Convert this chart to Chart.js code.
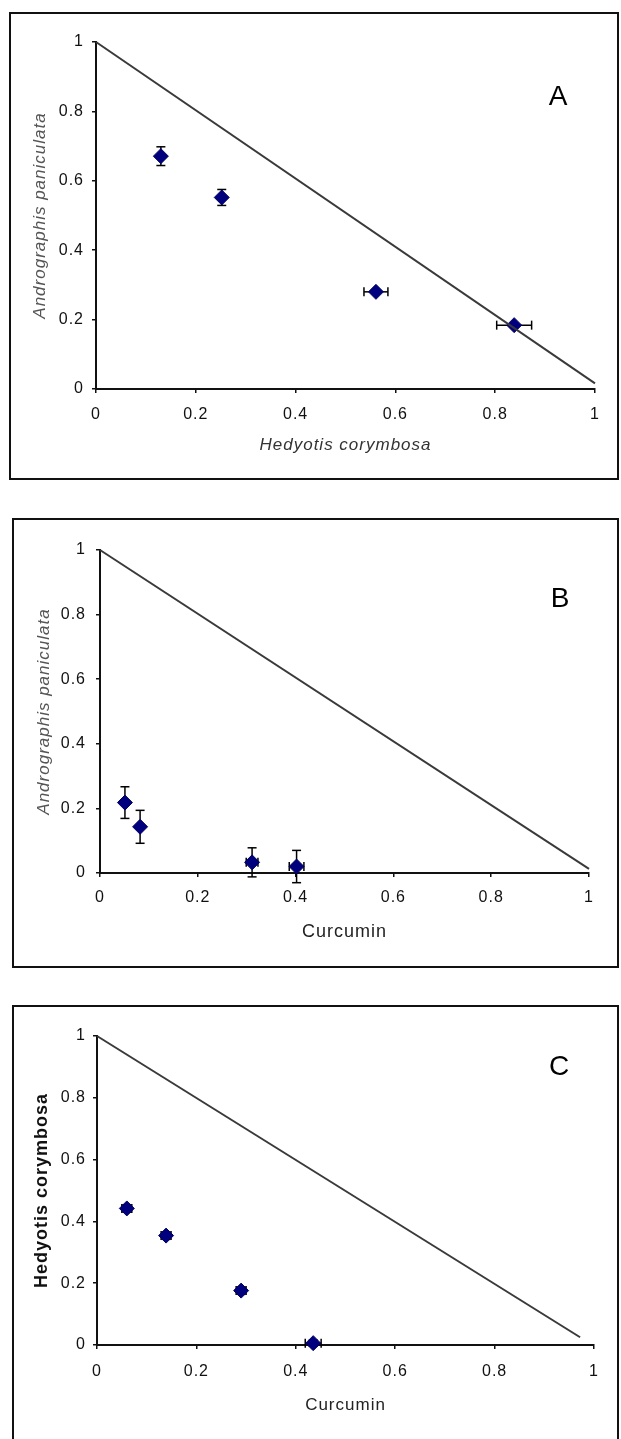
<!DOCTYPE html>
<html>
<head>
<meta charset="utf-8">
<title>Isobolograms A-C</title>
<script src="https://cdn.jsdelivr.net/npm/chart.js"></script>
<style>
  body { margin: 0; background: #fff; width: 621px; height: 1439px; position: relative; overflow: hidden; }
  .box { position: absolute; border: 2px solid #111; box-sizing: border-box; }
  canvas { position: absolute; left: 0; }
  .tag { position: absolute; width: 40px; text-align: center; line-height: 30px;
         font: 28px "Liberation Sans", Arial, sans-serif; color: #000; }
</style>
</head>
<body>
<div class="box" style="left:9px;top:12px;width:610px;height:468px"></div>
<div class="box" style="left:12px;top:518px;width:607px;height:450px"></div>
<div class="box" style="left:12px;top:1005px;width:607px;height:445px"></div>

<canvas id="chartA" width="621" height="480" style="top:0"></canvas>
<canvas id="chartB" width="621" height="468" style="top:500px"></canvas>
<canvas id="chartC" width="621" height="449" style="top:990px"></canvas>

<div class="tag" style="left:538px;top:80px">A</div>
<div class="tag" style="left:540px;top:582px">B</div>
<div class="tag" style="left:539px;top:1050px">C</div>

<script>
const tickValues = [0, 0.2, 0.4, 0.6, 0.8, 1];

// A: Hedyotis corymbosa (x) vs Andrographis paniculata (y)
const aX = [0.130, 0.252, 0.561, 0.838];
const aY = [0.671, 0.552, 0.280, 0.184];
const aXErr = [0, 0, 0.024, 0.035];
const aYErr = [0.027, 0.023, 0, 0];
const aLineX = [0, 1];
const aLineY = [1, 0.016];

// B: Curcumin (x) vs Andrographis paniculata (y)
const bX = [0.051, 0.082, 0.311, 0.402];
const bY = [0.218, 0.143, 0.033, 0.020];
const bXErr = [0, 0, 0.012, 0.015];
const bYErr = [0.049, 0.051, 0.045, 0.050];
const bLineX = [0, 1];
const bLineY = [1, 0.013];

// C: Curcumin (x) vs Hedyotis corymbosa (y)
const cX = [0.060, 0.139, 0.290, 0.435];
const cY = [0.442, 0.354, 0.176, 0.006];
const cXErr = [0.010, 0.010, 0.010, 0.016];
const cYErr = [0.012, 0.012, 0.012, 0.010];
const cLineX = [0, 0.972];
const cLineY = [1, 0.025];

const FONT = '"Liberation Sans", Arial, sans-serif';

// canvas text in the original is loosely spaced
const spacing = {
    id: 'spacing',
    beforeDraw(chart) { chart.ctx.letterSpacing = '1px'; }
};

const errorBars = {
    id: 'errorBars',
    beforeDatasetsDraw(chart) {
        const {ctx, scales: {x, y}} = chart;
        const pts = chart.data.datasets[1].data;
        const cap = 4.5;
        ctx.save();
        ctx.strokeStyle = '#000';
        ctx.lineWidth = 1.5;
        const seg = (x1, y1, x2, y2) => { ctx.beginPath(); ctx.moveTo(x1, y1); ctx.lineTo(x2, y2); ctx.stroke(); };
        pts.forEach(p => {
            const px = x.getPixelForValue(p.x), py = y.getPixelForValue(p.y);
            if (p.ye) {
                const t = y.getPixelForValue(p.y + p.ye), b = y.getPixelForValue(p.y - p.ye);
                seg(px, t, px, b); seg(px - cap, t, px + cap, t); seg(px - cap, b, px + cap, b);
            }
            if (p.xe) {
                const l = x.getPixelForValue(p.x - p.xe), r = x.getPixelForValue(p.x + p.xe);
                seg(l, py, r, py); seg(l, py - cap, l, py + cap); seg(r, py - cap, r, py + cap);
            }
        });
        ctx.restore();
    }
};

function makeChart(id, d, L) {
    const points = d.x.map((v, i) => ({x: v, y: d.y[i], xe: d.xe[i], ye: d.ye[i]}));
    const line = d.lx.map((v, i) => ({x: v, y: d.ly[i]}));
    const axisBase = {
        type: 'linear', min: 0, max: 1,
        afterBuildTicks: s => { s.ticks = tickValues.map(v => ({value: v})); },
        grid: { drawOnChartArea: false, drawTicks: true, tickLength: 4, color: '#111', lineWidth: 1.5 },
        border: { color: '#111', width: 2 }
    };
    const tickFont = { family: FONT, size: 16 };
    return new Chart(document.getElementById(id), {
        type: 'scatter',
        data: {
            datasets: [{
                data: line, showLine: true, pointRadius: 0,
                borderColor: '#3a3a3a', borderWidth: 2, clip: false
            }, {
                data: points, pointStyle: 'rectRot', pointRadius: 7.5,
                backgroundColor: '#00007f', borderColor: '#000060', borderWidth: 1, clip: false
            }]
        },
        options: {
            responsive: false, animation: false, devicePixelRatio: 1,
            layout: { padding: { left: 0, top: L.top, right: L.right, bottom: 0 } },
            plugins: { legend: { display: false }, tooltip: { enabled: false } },
            scales: {
                x: Object.assign({}, axisBase, {
                    afterFit: s => { s.height = L.xh; },
                    ticks: { color: '#111', font: tickFont, padding: L.xtp, maxRotation: 0, autoSkip: false,
                             callback: v => String(v) },
                    title: { display: true, text: d.xTitle, color: d.xColor,
                             font: { family: FONT, size: d.xSize, style: d.xStyle },
                             padding: { top: 0, bottom: L.xpad } }
                }),
                y: Object.assign({}, axisBase, {
                    afterFit: s => { s.width = L.yw; },
                    ticks: { color: '#111', font: tickFont, padding: L.ytp, autoSkip: false,
                             callback: v => String(v) },
                    title: { display: true, text: d.yTitle, color: d.yColor,
                             font: { family: FONT, size: d.ySize, style: d.yStyle, weight: d.yWeight },
                             padding: { top: L.ypad, bottom: 0 } }
                })
            }
        },
        plugins: [spacing, errorBars]
    });
}

makeChart('chartA',
    { x: aX, y: aY, xe: aXErr, ye: aYErr, lx: aLineX, ly: aLineY,
      xTitle: 'Hedyotis corymbosa', xSize: 17, xStyle: 'italic', xColor: '#333',
      yTitle: 'Andrographis paniculata', ySize: 17, yStyle: 'italic', yWeight: 'normal', yColor: '#555' },
    { top: 42, right: 26, xh: 91, yw: 96, xtp: 12, ytp: 8, xpad: 25, ypad: 30 });

makeChart('chartB',
    { x: bX, y: bY, xe: bXErr, ye: bYErr, lx: bLineX, ly: bLineY,
      xTitle: 'Curcumin', xSize: 18, xStyle: 'normal', xColor: '#222',
      yTitle: 'Andrographis paniculata', ySize: 17, yStyle: 'italic', yWeight: 'normal', yColor: '#555' },
    { top: 50, right: 32, xh: 95, yw: 100, xtp: 11, ytp: 10, xpad: 25, ypad: 34 });

makeChart('chartC',
    { x: cX, y: cY, xe: cXErr, ye: cYErr, lx: cLineX, ly: cLineY,
      xTitle: 'Curcumin', xSize: 17, xStyle: 'normal', xColor: '#222',
      yTitle: 'Hedyotis corymbosa', ySize: 18, yStyle: 'normal', yWeight: 'bold', yColor: '#111' },
    { top: 46, right: 27, xh: 94, yw: 97, xtp: 13, ytp: 7, xpad: 23, ypad: 31 });
</script>
</body>
</html>
